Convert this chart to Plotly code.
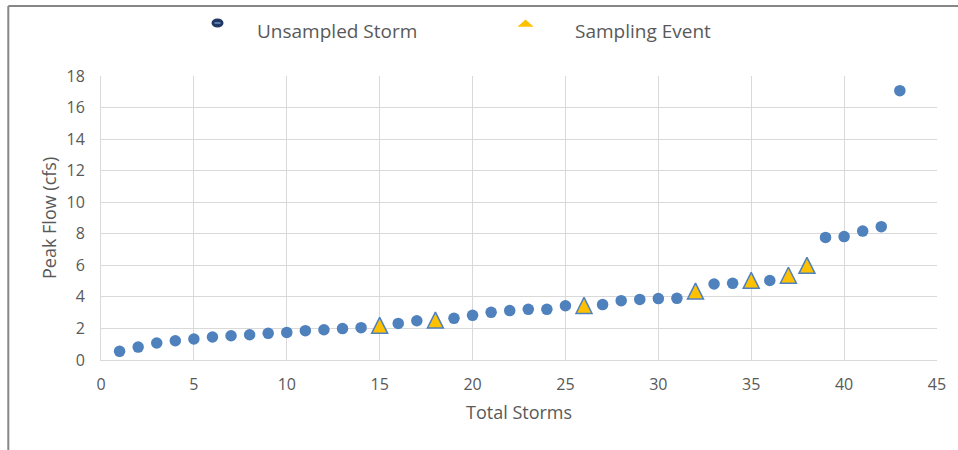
import plotly.graph_objects as go

# Peak flow (cfs) for each storm, ranked by size
storm_number = list(range(1, 44))
peak_flow = [0.55, 0.82, 1.08, 1.22, 1.33, 1.46, 1.54, 1.60, 1.69, 1.75,
             1.86, 1.92, 1.99, 2.05, 2.20, 2.32, 2.49, 2.53, 2.64, 2.83,
             3.02, 3.13, 3.21, 3.21, 3.44, 3.46, 3.51, 3.76, 3.84, 3.89,
             3.91, 4.37, 4.82, 4.86, 5.05, 5.04, 5.37, 6.00, 7.77, 7.82,
             8.17, 8.45, 17.07]

# Storms at which a sample was collected
sampled_storms = [15, 18, 26, 32, 35, 37, 38]

x_ticks = [0, 5, 10, 15, 20, 25, 30, 35, 40, 45]
y_ticks = [0, 2, 4, 6, 8, 10, 12, 14, 16, 18]

legend_labels = ["Unsampled Storm", "Sampling Event"]

unsampled_x = [s for s in storm_number if s not in sampled_storms]
unsampled_y = [peak_flow[s - 1] for s in unsampled_x]
sampled_y = [peak_flow[s - 1] for s in sampled_storms]

BLUE = "#4f81bd"
GOLD = "#ffc000"
GRID = "#d9d9d9"
TEXT = "#595959"
FONT = "Open Sans"

fig = go.Figure()

fig.add_trace(go.Scatter(
    x=unsampled_x, y=unsampled_y, mode="markers", name=legend_labels[0],
    marker=dict(symbol="circle", size=11.5, color=BLUE, line=dict(width=0)),
    showlegend=False, cliponaxis=False,
))

# Equilateral-looking triangle: an arrow glyph flipped and centred on the point
fig.add_trace(go.Scatter(
    x=sampled_storms, y=sampled_y, mode="markers", name=legend_labels[1],
    marker=dict(symbol="arrow-down", angle=180, standoff=8, size=16,
                color=GOLD, line=dict(width=1.5, color=BLUE)),
    showlegend=False, cliponaxis=False,
))

# Plot-area geometry (pixels) used to place the legend and titles
L, R, T, B = 101, 21, 76, 90
W, H = 958, 450
pw, ph = W - L - R, H - T - B


def px_x(px):
    return (px - L) / pw


def px_y(py):
    return (H - B - py) / ph


shapes = [
    # chart frame
    dict(type="line", xref="paper", yref="paper",
         x0=px_x(8.3), x1=px_x(8.3), y0=px_y(6), y1=px_y(470),
         line=dict(color="#878787", width=2)),
    dict(type="line", xref="paper", yref="paper",
         x0=px_x(8.3), x1=px_x(980), y0=px_y(6), y1=px_y(6),
         line=dict(color="#878787", width=2)),
    # legend symbols
    dict(type="circle", xref="paper", yref="paper",
         x0=px_x(211.5), x1=px_x(223.5), y0=px_y(27.5), y1=px_y(18.5),
         fillcolor="#1f3864", line=dict(width=0)),
    dict(type="line", xref="paper", yref="paper",
         x0=px_x(214.5), x1=px_x(220.5), y0=px_y(23), y1=px_y(23),
         line=dict(color="#6f8fc0", width=1.5)),
    dict(type="path", xref="paper", yref="paper",
         path=f"M {px_x(517.5)} {px_y(26.8)} L {px_x(533.6)} {px_y(26.8)} "
              f"L {px_x(525.5)} {px_y(19.6)} Z",
         fillcolor=GOLD, line=dict(width=0)),
]

annotations = [
    dict(text=legend_labels[0], xref="paper", yref="paper",
         x=px_x(255), y=px_y(31), xanchor="left", yanchor="middle",
         showarrow=False, font=dict(family=FONT, size=19, color=TEXT)),
    dict(text=legend_labels[1], xref="paper", yref="paper",
         x=px_x(573), y=px_y(31), xanchor="left", yanchor="middle",
         showarrow=False, font=dict(family=FONT, size=19, color=TEXT)),
    dict(text="Total Storms", xref="paper", yref="paper",
         x=px_x(519), y=px_y(412), xanchor="center", yanchor="middle",
         showarrow=False, font=dict(family=FONT, size=18, color=TEXT)),
    dict(text="Peak Flow (cfs)", xref="paper", yref="paper",
         x=px_x(49), y=px_y(218), xanchor="center", yanchor="middle",
         textangle=-90, showarrow=False,
         font=dict(family=FONT, size=18, color=TEXT)),
]

fig.update_layout(
    width=W, height=H,
    margin=dict(l=L, r=R, t=T, b=B),
    paper_bgcolor="white", plot_bgcolor="white",
    font=dict(family=FONT, size=16, color=TEXT),
    showlegend=False,
    shapes=shapes,
    annotations=annotations,
)

fig.update_xaxes(
    range=[0, 45], tickmode="array", tickvals=x_ticks,
    showgrid=True, gridcolor=GRID, gridwidth=1,
    showline=True, linecolor=GRID, linewidth=1,
    zeroline=False, ticks="", ticklabelstandoff=10,
    tickfont=dict(family=FONT, size=16, color=TEXT),
)
fig.update_yaxes(
    range=[0, 18], tickmode="array", tickvals=y_ticks,
    showgrid=True, gridcolor=GRID, gridwidth=1,
    showline=True, linecolor=GRID, linewidth=1,
    zeroline=False, ticks="", ticklabelstandoff=12,
    tickfont=dict(family=FONT, size=16, color=TEXT),
)

fig.write_html("out.html")
